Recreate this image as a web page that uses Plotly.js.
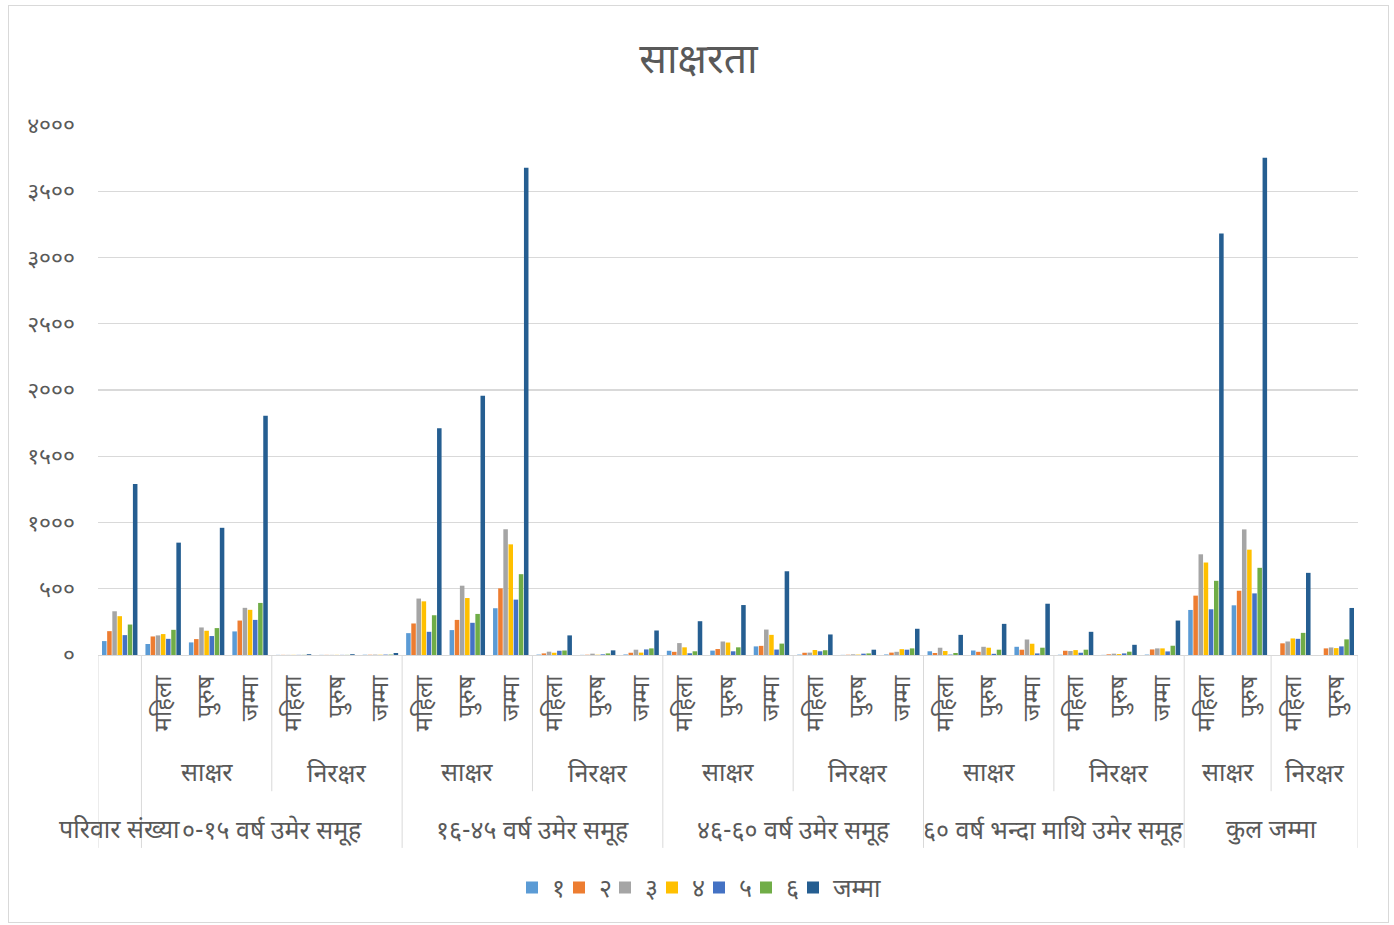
<!DOCTYPE html>
<html>
<head>
<meta charset="utf-8">
<script src="https://cdn.plot.ly/plotly-3.0.1.min.js"></script>
<style>
  html, body { margin: 0; padding: 0; background: #ffffff; }
  #frame { position: absolute; left: 8px; top: 5px; width: 1381px; height: 918px; box-sizing: border-box; border: 1px solid #d9d9d9; background: #fff; }
  #chart { width: 1379px; height: 916px; }
</style>
</head>
<body>
<div id="frame"><div id="chart"></div></div>
<script>
// ---- categories (three levels) ----
const groupLabels = ["परिवार संख्या","०-१५ वर्ष उमेर समूह","१६-४५ वर्ष उमेर समूह","४६-६० वर्ष उमेर समूह","६० वर्ष भन्दा माथि उमेर समूह","कुल जम्मा"];
const catGroup = [0, 1,1,1,1,1,1, 2,2,2,2,2,2, 3,3,3,3,3,3, 4,4,4,4,4,4, 5,5,5,5];
const catLiteracy = ["", "साक्षर","साक्षर","साक्षर","निरक्षर","निरक्षर","निरक्षर",
  "साक्षर","साक्षर","साक्षर","निरक्षर","निरक्षर","निरक्षर",
  "साक्षर","साक्षर","साक्षर","निरक्षर","निरक्षर","निरक्षर",
  "साक्षर","साक्षर","साक्षर","निरक्षर","निरक्षर","निरक्षर",
  "साक्षर","साक्षर","निरक्षर","निरक्षर"];
const catGender = ["", "महिला","पुरुष","जम्मा","महिला","पुरुष","जम्मा",
  "महिला","पुरुष","जम्मा","महिला","पुरुष","जम्मा",
  "महिला","पुरुष","जम्मा","महिला","पुरुष","जम्मा",
  "महिला","पुरुष","जम्मा","महिला","पुरुष","जम्मा",
  "महिला","पुरुष","महिला","पुरुष"];

// ---- series ----
const seriesNames = ["१","२","३","४","५","६","जम्मा"];
const s1 = [105, 83,95,178,1,1,2, 165,188,353,3,1,4, 32,33,65,3,1,4, 28,34,62,2,1,3, 340,375,0,0];
const s2 = [180, 140,120,260,1,1,2, 238,265,503,12,2,17, 24,45,69,17,2,18, 15,24,40,32,5,42, 448,485,88,50];
const s3 = [330, 148,208,356,1,1,3, 426,523,949,25,10,40, 90,102,192,18,5,24, 55,62,117,30,10,50, 760,948,102,57];
const s4 = [293, 158,183,341,1,1,2, 405,430,835,17,2,18, 58,94,152,38,3,44, 30,55,85,37,7,50, 698,795,125,52];
const s5 = [150, 122,143,265,1,1,3, 175,243,418,32,5,42, 13,28,41,28,10,40, 3,9,12,17,12,27, 345,465,122,65];
const s6 = [230, 190,203,393,1,1,3, 300,310,610,34,12,50, 28,58,86,36,12,50, 15,40,55,40,25,70, 560,658,167,118];
const sTotal = [1290, 848,960,1805,6,6,15, 1711,1957,3677,148,35,185, 255,377,632,155,40,198, 152,235,387,175,77,260, 3182,3752,620,355];

// ---- y axis ticks ----
const yTickVals = [0,500,1000,1500,2000,2500,3000,3500,4000];
const yTickText = ["०","५००","१०००","१५००","२०००","२५००","३०००","३५००","४०००"];

const chartTitle = "साक्षरता";
const colors = ["#5B9BD5","#ED7D31","#A5A5A5","#FFC000","#4472C4","#70AD47","#255E91"];

const FONT = "'Noto Sans Devanagari', 'Noto Sans', 'Lohit Devanagari', 'Mukta', sans-serif";
const TXT = "#595959";

const catKeys = catGroup.map((g, i) => g + "|" + catLiteracy[i] + "|" + catGender[i]);
const allSeries = [s1, s2, s3, s4, s5, s6, sTotal];
const legendIds = allSeries.map((_, k) => k === 0 ? "legend" : "legend" + (k + 1));

const traces = allSeries.map((vals, k) => ({
  type: "bar",
  name: seriesNames[k],
  x: catKeys,
  y: vals,
  marker: { color: colors[k] },
  legend: legendIds[k],
  hoverinfo: "none"
}));

// ---- multi-level axis labels and separators ----
const annotations = [];
const shapes = [];
const yGroupLine = -(852 - 658) / 533;
const yLitLine = -(795 - 658) / 533;
const yLitText = -(779 - 658) / 533;
const yGroupText = -(836 - 658) / 533;
const yLegend = -(892 - 658) / 533;
const sepColor = "#d9d9d9";

function vline(x, yEnd) {
  shapes.push({ type: "line", xref: "x", yref: "paper", x0: x, x1: x, y0: 0, y1: yEnd,
    line: { color: sepColor, width: 1 } });
}

// group spans
let start = 0;
for (let i = 1; i <= catGroup.length; i++) {
  if (i === catGroup.length || catGroup[i] !== catGroup[start]) {
    annotations.push({ xref: "x", yref: "paper", x: (start + i - 1) / 2, y: yGroupText,
      text: groupLabels[catGroup[start]], showarrow: false, xanchor: "center", yanchor: "middle",
      font: { family: FONT, size: 25, color: TXT } });
    start = i;
  }
}
// literacy spans
start = 0;
for (let i = 1; i <= catGroup.length; i++) {
  const changed = i === catGroup.length || catGroup[i] !== catGroup[start] || catLiteracy[i] !== catLiteracy[start];
  if (changed) {
    if (catLiteracy[start] !== "") {
      annotations.push({ xref: "x", yref: "paper", x: (start + i - 1) / 2, y: yLitText,
        text: catLiteracy[start], showarrow: false, xanchor: "center", yanchor: "middle",
        font: { family: FONT, size: 25, color: TXT } });
    }
    start = i;
  }
}
// separators
vline(-0.5, yGroupLine);
vline(catGroup.length - 0.5, yGroupLine);
for (let i = 1; i < catGroup.length; i++) {
  if (catGroup[i] !== catGroup[i - 1]) vline(i - 0.5, yGroupLine);
  else if (catLiteracy[i] !== catLiteracy[i - 1]) vline(i - 0.5, yLitLine);
}

const legendFont = { family: FONT, size: 25, color: TXT };

const layout = {
  width: 1379, height: 916,
  margin: { l: 89, r: 30, t: 119, b: 264, pad: 0 },
  paper_bgcolor: "#ffffff", plot_bgcolor: "#ffffff",
  font: { family: FONT, color: TXT, size: 20 },
  title: { text: chartTitle, x: 0.5, xanchor: "center", y: 0.943, yanchor: "middle",
    font: { family: FONT, size: 41, color: TXT } },
  barmode: "group", bargap: 0.17, bargroupgap: 0.12,
  showlegend: true,
  xaxis: {
    type: "category", categoryorder: "array", categoryarray: catKeys,
    tickmode: "array", tickvals: catKeys, ticktext: catGender, tickangle: -90,
    tickfont: { family: FONT, size: 24, color: TXT },
    ticks: "", ticklabelstandoff: 10,
    showline: true, linecolor: sepColor, linewidth: 1,
    showgrid: false, zeroline: false, fixedrange: true,
    range: [-0.5, catGroup.length - 0.5]
  },
  yaxis: {
    range: [0, 4000], tickmode: "array", tickvals: yTickVals, ticktext: yTickText,
    tickfont: { family: FONT, size: 23, color: TXT },
    showgrid: true, gridcolor: "#d9d9d9", gridwidth: 1.3,
    zeroline: false, showline: false, ticks: "", ticklabelstandoff: 22, fixedrange: true
  },
  annotations: annotations,
  shapes: shapes
};

// one legend box per series, placed like the reference's legend row
const legendSwatchPx = [526, 573, 619, 666, 713, 760, 807];
legendIds.forEach((id, k) => {
  layout[id] = { orientation: "h", x: (legendSwatchPx[k] - 14 - 98) / 1260, xanchor: "left",
    y: yLegend, yanchor: "middle", font: legendFont, itemwidth: 30, tracegroupgap: 0,
    bgcolor: "rgba(0,0,0,0)" };
});

Plotly.newPlot("chart", traces, layout, { displayModeBar: false, staticPlot: true });
</script>
</body>
</html>
